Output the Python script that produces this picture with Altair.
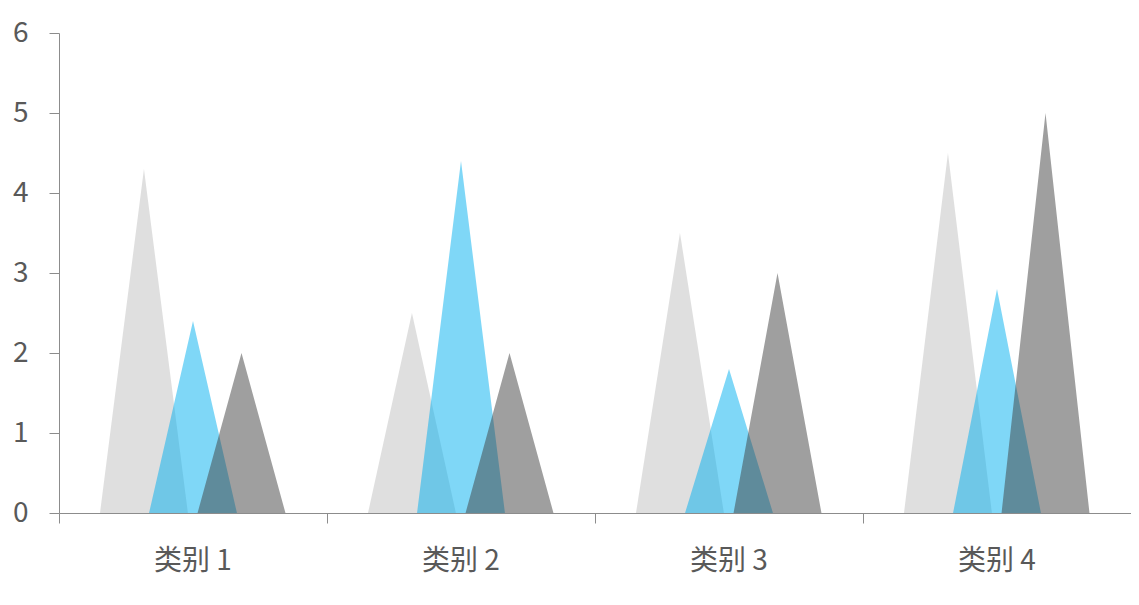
import altair as alt
import pandas as pd

categories = ["类别 1", "类别 2", "类别 3", "类别 4"]
series_names = ["系列 1", "系列 2", "系列 3"]
series1 = [4.3, 2.5, 3.5, 4.5]
series2 = [2.4, 4.4, 1.8, 2.8]
series3 = [2.0, 2.0, 3.0, 5.0]
y_ticks = [0, 1, 2, 3, 4, 5, 6]

colors = ["#BFBFBF", "#00B0F0", "#404040"]
centers = [0.317, 0.5, 0.681]   # peak position inside each category band
half_w = 0.164                  # half base width of a triangle (category units)

W, H = 1072, 480
FONT = "Noto Sans CJK SC"

all_series = [series1, series2, series3]

layers = []
for s, (name, vals) in enumerate(zip(series_names, all_series)):
    rows = []
    for i, v in enumerate(vals):
        c = i + centers[s]
        tri = f"{name}-{i}"
        rows.append({"x": c - half_w, "y": 0.0, "tri": tri, "k": 0})
        rows.append({"x": c, "y": v, "tri": tri, "k": 1})
        rows.append({"x": c + half_w, "y": 0.0, "tri": tri, "k": 2})
    df = pd.DataFrame(rows)
    layer = alt.Chart(df).mark_area(
        color=colors[s], opacity=0.5, interpolate="linear", strokeWidth=0
    ).encode(
        x=alt.X("x:Q", scale=alt.Scale(domain=[0, 4], nice=False, zero=False),
                axis=alt.Axis(values=[0, 1, 2, 3], labels=False, title=None,
                              grid=False, domainColor="#8C8C8C", tickColor="#8C8C8C",
                              tickSize=10, domainWidth=1)),
        y=alt.Y("y:Q", scale=alt.Scale(domain=[0, 6], nice=False),
                axis=alt.Axis(values=y_ticks, title=None, grid=False,
                              domainColor="#8C8C8C", tickColor="#8C8C8C",
                              tickSize=10, labelFontSize=28, labelFont=FONT,
                              labelColor="#595959", labelPadding=21)),
        detail="tri:N",
        order="k:Q",
    )
    layers.append(layer)

lab_df = pd.DataFrame({"cat": categories, "pos": [i + 0.5 for i in range(len(categories))]})
labels = alt.Chart(lab_df).mark_text(
    font=FONT, fontSize=28, color="#595959", baseline="middle", align="center"
).encode(
    x=alt.X("pos:Q"),
    y=alt.value(H + 49),
    text="cat:N",
)

chart = alt.layer(*layers, labels).properties(
    width=W, height=H,
    background="white",
    autosize=alt.AutoSizeParams(type="none"),
    padding={"left": 51, "top": 25, "right": 0, "bottom": 70},
).configure_view(stroke=None, strokeWidth=0)

chart.save("out.html", embed_options={"renderer": "svg", "actions": False})
